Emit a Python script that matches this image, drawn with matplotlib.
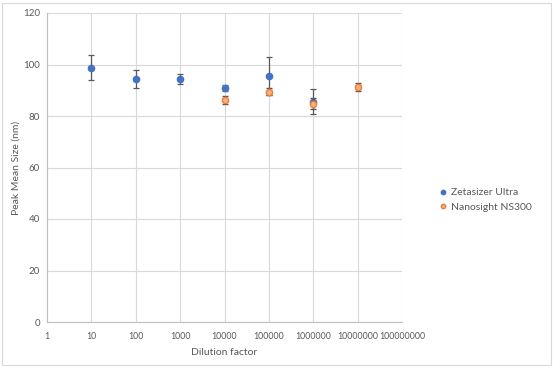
import matplotlib.pyplot as plt
from matplotlib.patches import Rectangle
from matplotlib.ticker import FixedLocator, FixedFormatter

plt.rcParams["font.family"] = ["Lato", "DejaVu Sans"]

# Zetasizer Ultra
zeta_x = [10, 100, 1000, 10000, 100000, 1000000]
zeta_y = [98.8, 94.4, 94.5, 91.0, 95.5, 85.6]
zeta_err = [5.0, 3.6, 2.0, 1.1, 7.3, 5.0]

# Nanosight NS300
nano_x = [10000, 100000, 1000000, 10000000]
nano_y = [86.2, 89.4, 84.8, 91.3]
nano_err = [1.4, 1.3, 2.0, 1.4]

x_ticks = [1, 10, 100, 1000, 10000, 100000, 1000000, 10000000, 100000000]
x_labels = [str(v) for v in x_ticks]
y_ticks = [0, 20, 40, 60, 80, 100, 120]

blue = "#4472C4"
orange = "#ED7D31"
grid_c = "#D9D9D9"
text_c = "#595959"

fig = plt.figure(figsize=(5.53, 3.68), dpi=100)
fig.patches.append(Rectangle((0.004, 0.008), 0.992, 0.985, transform=fig.transFigure,
                             fill=False, edgecolor="#D9D9D9", linewidth=0.8))
ax = fig.add_axes([47 / 553, 1 - 322 / 368, (402 - 47) / 553, (322 - 13) / 368])

ax.set_xscale("log")
ax.set_xlim(1, 1e8)
ax.set_ylim(0, 120)
ax.xaxis.set_major_locator(FixedLocator(x_ticks))
ax.xaxis.set_major_formatter(FixedFormatter(x_labels))
ax.xaxis.set_minor_locator(FixedLocator([]))
ax.set_yticks(y_ticks)

for s in ("top", "right"):
    ax.spines[s].set_visible(False)
for s in ("left", "bottom"):
    ax.spines[s].set_color("#BFBFBF")
    ax.spines[s].set_linewidth(0.8)

ax.grid(True, color=grid_c, linewidth=0.8)
ax.set_axisbelow(True)
ax.tick_params(axis="both", length=0, colors=text_c)
ax.tick_params(axis="x", pad=7, labelsize=6.3)
ax.tick_params(axis="y", pad=5, labelsize=7)

ax.errorbar(zeta_x, zeta_y, yerr=zeta_err, fmt="o", color=blue, markersize=4.5,
            ecolor="#595959", elinewidth=0.9, capsize=2, capthick=0.9,
            label="Zetasizer Ultra", zorder=3)
ax.errorbar(nano_x, nano_y, yerr=nano_err, fmt="o", markerfacecolor="#F4B183",
            markeredgecolor=orange, markeredgewidth=1.0, markersize=4.5,
            ecolor="#595959", elinewidth=0.9, capsize=2, capthick=0.9,
            label="Nanosight NS300", zorder=4)

ax.set_xlabel("Dilution factor", fontsize=7.5, color=text_c, labelpad=5)
ax.set_ylabel("Peak Mean Size (nm)", fontsize=7.5, color=text_c, labelpad=2)

h, l = ax.get_legend_handles_labels()
h = [hh[0] for hh in h]
fig.legend(h, l, loc="center left", bbox_to_anchor=(430 / 553, 1 - 200 / 368),
           frameon=False, fontsize=7.5, labelcolor=text_c, handlelength=0.6,
           handletextpad=0.5, markerscale=0.7)

fig.savefig("out.png", dpi=100)
